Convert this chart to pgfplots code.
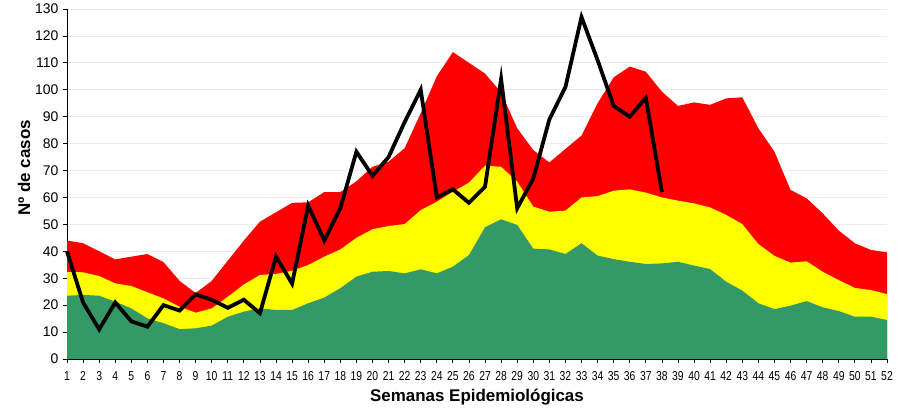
\documentclass[border=0pt]{standalone}
\usepackage{pgfplots}
\pgfplotsset{compat=1.18}
\usepackage{fontspec}
\setmainfont{Liberation Sans}
\newfontfamily\narrow[FakeStretch=0.8]{Liberation Sans}
\definecolor{cgreen}{RGB}{51,153,102}
\definecolor{cyellow}{RGB}{255,255,0}
\definecolor{cred}{RGB}{255,0,0}
\definecolor{cgrid}{RGB}{235,235,235}
\begin{document}
\begin{tikzpicture}
\useasboundingbox (0,0) rectangle (902bp,414bp);
\begin{axis}[
  at={(67bp,55bp)}, anchor=south west,
  scale only axis, width=820bp, height=350bp,
  xmin=1, xmax=52, ymin=0, ymax=130,
  axis x line*=bottom, axis y line*=left,
  axis line style={line width=0.8pt, black},
  xtick={1,...,52}, ytick={0,10,...,130},
  tick align=outside, major tick length=4bp,
  tick style={black, line width=0.8pt},
  ymajorgrids, grid style={cgrid, line width=0.8pt},
  /pgf/number format/assume math mode=true,
  x tick label style={font=\narrow\fontsize{13}{14}\selectfont, yshift=-5bp},
  y tick label style={font=\fontsize{14}{15}\selectfont, xshift=-1bp},
  xlabel={\bfseries\fontsize{17}{18}\selectfont Semanas Epidemiológicas},
  ylabel={\bfseries\fontsize{17}{18}\selectfont Nº de casos},
  xlabel style={yshift=-2bp},
  ylabel style={at={(axis description cs:-0.0524,0.546)}, anchor=center},
  clip=false,
]
\addplot[fill=cred, draw=none] coordinates {
(1,44)(2,43)(3,40)(4,37)(5,38)(6,39)(7,36)(8,29)(9,24.5)(10,29)
(11,36.5)(12,44)(13,51)(14,54.5)(15,58)(16,58.2)(17,62)(18,62)(19,66)(20,71.4)
(21,73.3)(22,78.3)(23,91.3)(24,105)(25,114)(26,110)(27,106)(28,99)(29,85.7)(30,77.6)
(31,73)(32,78)(33,83)(34,95)(35,104.6)(36,108.6)(37,106.7)(38,99.3)(39,94)(40,95.3)
(41,94.4)(42,96.8)(43,97.2)(44,85.7)(45,77)(46,62.8)(47,59.7)(48,54.1)(49,47.7)(50,43)
(51,40.5)(52,39.6)} \closedcycle;
\addplot[fill=cyellow, draw=none] coordinates {
(1,32.4)(2,32.2)(3,30.8)(4,28.1)(5,27.1)(6,24.8)(7,22.5)(8,19.4)(9,17.2)(10,18.8)
(11,23.1)(12,27.7)(13,31.2)(14,31.6)(15,32.8)(16,34.9)(17,38)(18,40.7)(19,45)(20,48.2)
(21,49.4)(22,50.1)(23,55.3)(24,58.4)(25,62.1)(26,65.5)(27,71.8)(28,71.4)(29,65.9)(30,56.6)
(31,54.7)(32,55.1)(33,60)(34,60.5)(35,62.5)(36,63)(37,61.8)(38,60)(39,58.8)(40,57.8)
(41,56.3)(42,53.5)(43,50.1)(44,42.7)(45,38.3)(46,35.8)(47,36.3)(48,32.4)(49,29.3)(50,26.4)
(51,25.6)(52,24.1)} \closedcycle;
\addplot[fill=cgreen, draw=none] coordinates {
(1,23.5)(2,23.8)(3,23.5)(4,21.3)(5,18.8)(6,15.1)(7,13.3)(8,11.1)(9,11.4)(10,12.4)
(11,15.7)(12,17.6)(13,18.8)(14,18.2)(15,18.2)(16,20.7)(17,22.8)(18,26.3)(19,30.6)(20,32.4)
(21,32.7)(22,31.8)(23,33.3)(24,31.8)(25,34.3)(26,38.6)(27,48.9)(28,51.9)(29,49.8)(30,41)
(31,40.7)(32,39)(33,43)(34,38.4)(35,37.1)(36,36.1)(37,35.3)(38,35.5)(39,36.1)(40,34.7)
(41,33.4)(42,28.7)(43,25.4)(44,20.7)(45,18.5)(46,19.8)(47,21.5)(48,19.2)(49,17.8)(50,15.7)
(51,15.7)(52,14.5)} \closedcycle;
\addplot[black, line width=3.8pt, line join=miter, mark=none] coordinates {
(1,40)(2,21)(3,11)(4,21)(5,14)(6,12)(7,20)(8,18)(9,24)(10,22)
(11,19)(12,22)(13,17)(14,38)(15,28)(16,57)(17,44)(18,56)(19,77)(20,68)
(21,75)(22,88)(23,100)(24,60)(25,63)(26,58)(27,64)(28,104)(29,56)(30,67)
(31,89)(32,101)(33,127)(34,111)(35,94)(36,90)(37,97)(38,62)};
\end{axis}
\end{tikzpicture}
\end{document}
